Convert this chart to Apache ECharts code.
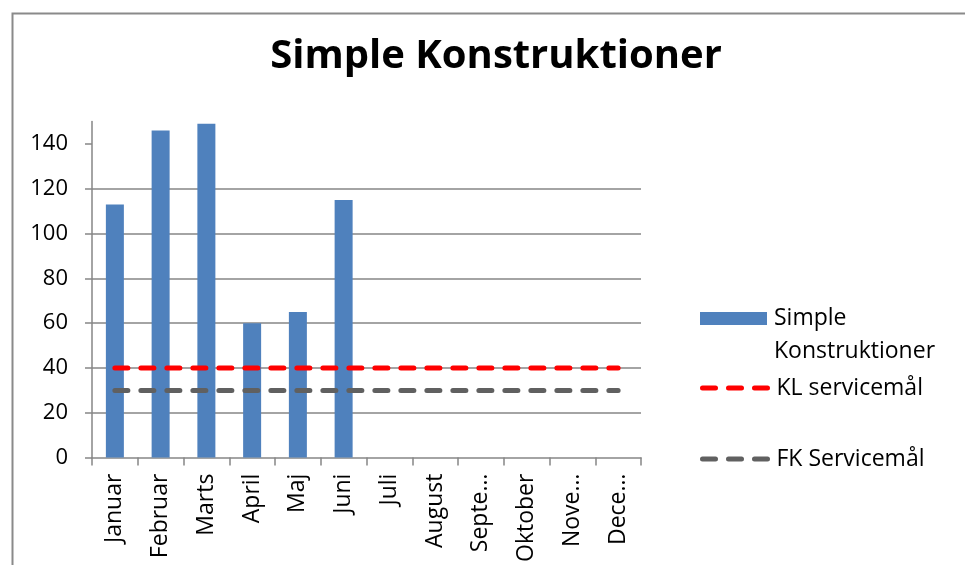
<!DOCTYPE html>
<html>
<head>
<meta charset="utf-8">
<script src="https://cdn.jsdelivr.net/npm/echarts@6/dist/echarts.min.js"></script>
<style>
html,body{margin:0;padding:0;background:#fff;}
#c{width:965px;height:565px;}
</style>
</head>
<body>
<div id="c"></div>
<script>
const titleText = 'Simple Konstruktioner';
const categories = ['Januar','Februar','Marts','April','Maj','Juni','Juli','August','Septe\u2026','Oktober','Nove\u2026','Dece\u2026'];
const barName = 'Simple Konstruktioner';
const barValues = [113, 146, 149, 60, 65, 115, null, null, null, null, null, null];
const klName = 'KL servicem\u00e5l';
const klValues = [40, 40, 40, 40, 40, 40, 40, 40, 40, 40, 40, 40];
const fkName = 'FK Servicem\u00e5l';
const fkValues = [30, 30, 30, 30, 30, 30, 30, 30, 30, 30, 30, 30];
const yTicks = [0, 20, 40, 60, 80, 100, 120, 140];

const FONT = 'Open Sans';
const chart = echarts.init(document.getElementById('c'), null, {renderer: 'canvas'});
const axisColor = '#868686';
const dash = [13, 13];

const legendText = {fontFamily: FONT, fontSize: 23, color: '#000', lineHeight: 33};

chart.setOption({
  backgroundColor: '#fff',
  animation: false,
  graphic: [{
    type: 'rect', left: 10, top: 11, z: 100,
    shape: {width: 1000, height: 1000},
    style: {fill: 'none', stroke: '#8a8a8a', lineWidth: 2}
  }],
  title: {
    text: titleText,
    left: 496, top: 32, textAlign: 'center', padding: 0,
    textStyle: {fontFamily: FONT, fontWeight: 'bold', fontSize: 40, lineHeight: 50, color: '#000'}
  },
  legend: [
    {
      data: [{name: barName, icon: 'rect'}],
      left: 700, top: 269, padding: 0,
      itemWidth: 67, itemHeight: 13,
      selectedMode: false,
      formatter: function () { return ' \nSimple\nKonstruktioner'; },
      textStyle: Object.assign({padding: [0, 0, 0, 2]}, legendText)
    },
    {
      data: [klName],
      left: 700, top: 371.5, padding: 0,
      itemWidth: 67, itemHeight: 13,
      selectedMode: false,
      lineStyle: {width: 5},
      itemStyle: {opacity: 0},
      textStyle: Object.assign({padding: [0, 0, 0, 2]}, legendText)
    },
    {
      data: [fkName],
      left: 700, top: 442.5, padding: 0,
      itemWidth: 67, itemHeight: 13,
      selectedMode: false,
      lineStyle: {width: 5},
      itemStyle: {opacity: 0},
      textStyle: Object.assign({padding: [0, 0, 0, 2]}, legendText)
    }
  ],
  grid: {left: 92, top: 121.5, width: 549, height: 337.5, containLabel: false},
  xAxis: {
    type: 'category',
    data: categories,
    boundaryGap: true,
    axisLine: {lineStyle: {color: axisColor, width: 1.5}},
    axisTick: {show: true, alignWithLabel: false, length: 8, lineStyle: {color: axisColor, width: 1.5}},
    axisLabel: {rotate: 90, margin: 16, interval: 0, fontFamily: FONT, fontSize: 23, color: '#000'},
    splitLine: {show: false}
  },
  yAxis: {
    type: 'value',
    min: 0, max: 150, interval: 10,
    axisLine: {show: true, lineStyle: {color: axisColor, width: 1.5}},
    axisTick: {show: true, length: 7, customValues: yTicks, lineStyle: {color: axisColor, width: 1.5}},
    axisLabel: {margin: 24, customValues: yTicks, fontFamily: FONT, fontSize: 22, color: '#000'},
    splitLine: {show: true, showMinLine: false, showMaxLine: false, lineStyle: {color: axisColor, width: 1.5}}
  },
  series: [
    {
      name: barName, type: 'bar', data: barValues, barWidth: 18,
      itemStyle: {color: '#4F81BD'}, z: 2
    },
    {
      name: klName, type: 'line', data: klValues, symbol: 'none', z: 3,
      lineStyle: {color: '#FF0000', width: 5, type: dash, cap: 'round'},
      itemStyle: {color: '#FF0000'}
    },
    {
      name: fkName, type: 'line', data: fkValues, symbol: 'none', z: 3,
      lineStyle: {color: '#606060', width: 5, type: dash, cap: 'round'},
      itemStyle: {color: '#606060'}
    }
  ]
});
</script>
</body>
</html>
